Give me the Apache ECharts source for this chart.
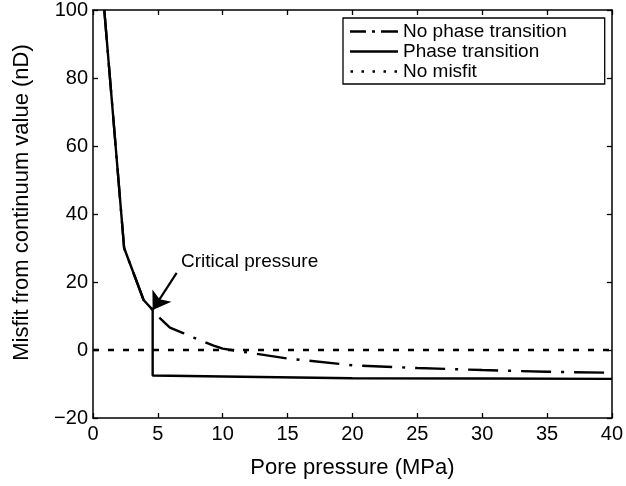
<!DOCTYPE html>
<html>
<head>
<meta charset="utf-8">
<script src="https://cdn.jsdelivr.net/npm/echarts@6/dist/echarts.min.js"></script>
<style>
html,body{margin:0;padding:0;background:#fff;}
#chart{width:626px;height:486px;}
</style>
</head>
<body>
<div id="chart"></div>
<script>
// ---- data ----
const pressureNoPT = [0.87, 2.4, 3.9, 4.6, 4.9, 5.93, 7.0, 8.2, 9.3, 10.0, 11.0, 15.0, 20.0, 25.0, 30.0, 35.0, 40.0];
const misfitNoPT   = [100, 30, 14.7, 11.8, 10.3, 6.6, 4.9, 2.9, 1.3, 0.4, -0.2, -2.5, -4.5, -5.3, -5.9, -6.4, -6.7];
const pressurePT = [0.87, 2.4, 3.9, 4.6, 4.6, 10, 20, 30, 40];
const misfitPT   = [100, 30, 14.7, 11.8, -7.5, -7.8, -8.3, -8.4, -8.5];
const pressureNoMisfit = [0, 40];
const misfitNoMisfit   = [0, 0];
const seriesNames = ['No phase transition', 'Phase transition', 'No misfit'];
const annotationText = 'Critical pressure';
const annotationTextAt = [6.78, 25.9];
const arrowFrom = [6.45, 22.7];
const arrowTo = [4.6, 11.8];
const xTicks = {min: 0, max: 40, interval: 5};
const yTicks = {min: -20, max: 100, interval: 20};
const xTitle = 'Pore pressure (MPa)';
const yTitle = 'Misfit from continuum value (nD)';

const zip = (xs, ys) => xs.map((x, i) => [x, ys[i]]);
const FONT = 'Liberation Sans';

// legend icon shapes (48 x 14 box), line centred at y = 7
const IW = 48, IH = 14, T0 = 5.8, T1 = 8.2;
const bboxPts = 'M0,0L0.01,0L0,0.01Z M' + IW + ',' + IH + 'L' + (IW - 0.01) + ',' + IH + 'L' + IW + ',' + (IH - 0.01) + 'Z ';
const rect = (a, b) => 'M' + a + ',' + T0 + 'L' + b + ',' + T0 + 'L' + b + ',' + T1 + 'L' + a + ',' + T1 + 'Z ';
const iconDashDot = 'path://' + bboxPts + rect(0, 16) + rect(22, 25) + rect(31, 48);
const iconSolid = 'path://' + bboxPts + rect(0, 48);
const iconDotted = 'path://' + bboxPts + rect(0.5, 3) + rect(11.5, 14) + rect(22.5, 25) + rect(33.5, 36) + rect(44.5, 47);
const legendIcons = [iconDashDot, iconSolid, iconDotted];

const chart = echarts.init(document.getElementById('chart'), null, {renderer: 'canvas'});
const axisLine = {show: true, onZero: false, lineStyle: {color: '#000', width: 1.5}};
const axisTick = {show: true, inside: true, length: 5, lineStyle: {color: '#000', width: 1.3}};
const minusFmt = v => String(v).replace('-', '\u2212');

chart.setOption({
  animation: false,
  backgroundColor: '#fff',
  grid: {left: 93, right: 14, top: 10, bottom: 68, containLabel: false},
  legend: {
    orient: 'vertical',
    left: 343, top: 18,
    padding: [4, 38, 3, 7],
    itemGap: 1,
    itemWidth: IW,
    itemHeight: IH,
    symbolKeepAspect: false,
    borderColor: '#000',
    borderWidth: 1.3,
    backgroundColor: '#fff',
    itemStyle: {color: '#000', borderWidth: 0},
    textStyle: {fontFamily: FONT, fontSize: 19, color: '#000'},
    data: seriesNames.map((n, i) => ({name: n, icon: legendIcons[i]}))
  },
  xAxis: [
    {type: 'value', min: xTicks.min, max: xTicks.max, interval: xTicks.interval,
     name: xTitle, nameLocation: 'middle', nameGap: 39,
     nameTextStyle: {fontFamily: FONT, fontSize: 22, color: '#000'},
     axisLine, axisTick, splitLine: {show: false},
     axisLabel: {fontFamily: FONT, fontSize: 20, color: '#000', margin: 6}},
    {type: 'value', position: 'top', min: xTicks.min, max: xTicks.max, interval: xTicks.interval,
     axisLine, axisTick, splitLine: {show: false}, axisLabel: {show: false}}
  ],
  yAxis: [
    {type: 'value', min: yTicks.min, max: yTicks.max, interval: yTicks.interval,
     name: yTitle, nameLocation: 'middle', nameGap: 60,
     nameTextStyle: {fontFamily: FONT, fontSize: 22, color: '#000', padding: [0, 0, 0, 23]},
     axisLine, axisTick, splitLine: {show: false},
     axisLabel: {fontFamily: FONT, fontSize: 20, color: '#000', margin: 5, formatter: minusFmt}},
    {type: 'value', position: 'right', min: yTicks.min, max: yTicks.max, interval: yTicks.interval,
     axisLine, axisTick, splitLine: {show: false}, axisLabel: {show: false}}
  ],
  series: [
    {name: seriesNames[0], type: 'line', data: zip(pressureNoPT, misfitNoPT),
     showSymbol: false, symbol: 'none', clip: true,
     lineStyle: {color: '#000', width: 2.4, type: [30, 10, 3, 10]},
     itemStyle: {color: '#000'}, z: 3},
    {name: seriesNames[1], type: 'line', data: zip(pressurePT, misfitPT),
     showSymbol: false, symbol: 'none', clip: true,
     lineStyle: {color: '#000', width: 2.4, type: 'solid'},
     itemStyle: {color: '#000'}, z: 4,
     markLine: {
       silent: true, symbol: ['none', 'arrow'], symbolSize: 17,
       lineStyle: {color: '#000', width: 2.2, type: 'solid'},
       label: {show: false},
       data: [[{coord: arrowFrom}, {coord: arrowTo}]]
     },
     markPoint: {
       silent: true, symbol: 'circle', symbolSize: 0,
       label: {show: true, position: 'right', distance: 0, formatter: annotationText,
               fontFamily: FONT, fontSize: 19, color: '#000'},
       data: [{coord: annotationTextAt}]
     }},
    {name: seriesNames[2], type: 'line', data: zip(pressureNoMisfit, misfitNoMisfit),
     showSymbol: false, symbol: 'none',
     lineStyle: {color: '#000', width: 2.4, type: [6, 9]},
     itemStyle: {color: '#000'}, z: 2}
  ]
});
</script>
</body>
</html>
